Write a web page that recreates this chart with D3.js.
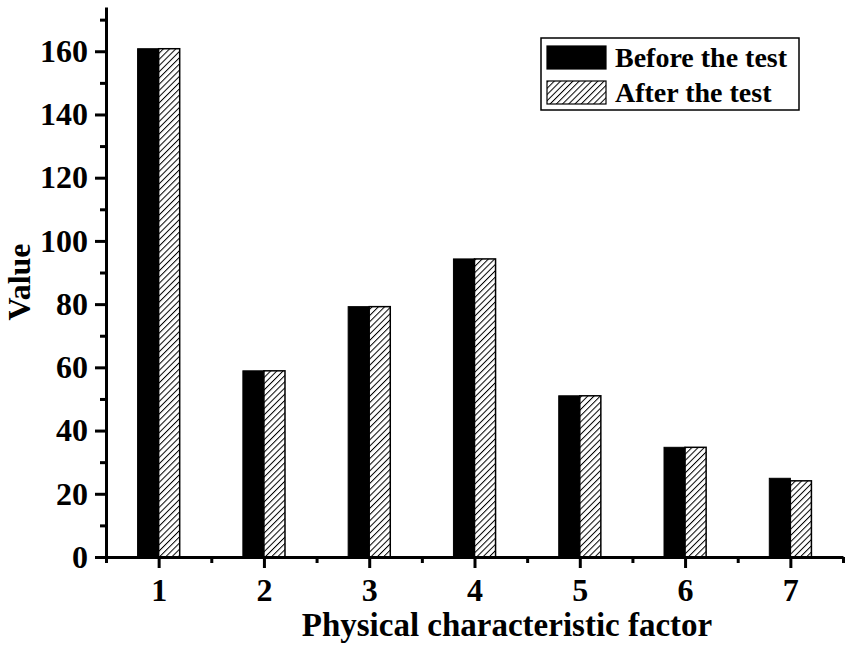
<!DOCTYPE html>
<html>
<head>
<meta charset="utf-8">
<script src="https://cdn.jsdelivr.net/npm/d3@7"></script>
<style>
  body { margin: 0; background: #fff; }
  svg { display: block; }
  text { font-family: "Liberation Serif", "Times New Roman", serif; font-weight: bold; fill: #000; }
</style>
</head>
<body>
<div id="chart"></div>
<script>
// Data
const factors = [1, 2, 3, 4, 5, 6, 7];
const beforeTest = [160.8, 58.9, 79.2, 94.3, 51.0, 34.7, 24.9];
const afterTest = [160.8, 58.9, 79.2, 94.3, 51.0, 34.7, 24.1];
const seriesNames = ['Before the test', 'After the test'];
const yMajorTicks = [0, 20, 40, 60, 80, 100, 120, 140, 160];
const yMinorTicks = [10, 30, 50, 70, 90, 110, 130, 150, 170];
const xMinorTicks = [0.5, 1.5, 2.5, 3.5, 4.5, 5.5, 6.5, 7.5];

const width = 851;
const height = 658;

const svg = d3.select('#chart')
  .append('svg')
  .attr('width', width)
  .attr('height', height);

// Hatch pattern for the "after" series
const hatchStep = 4.4;
const defs = svg.append('defs');
const pat = defs.append('pattern')
  .attr('id', 'hatch')
  .attr('patternUnits', 'userSpaceOnUse')
  .attr('width', hatchStep)
  .attr('height', hatchStep)
  .attr('patternTransform', 'rotate(45)');
pat.append('rect').attr('width', hatchStep).attr('height', hatchStep).attr('fill', '#fff');
pat.append('line')
  .attr('x1', 0).attr('y1', 0).attr('x2', 0).attr('y2', hatchStep)
  .attr('stroke', '#000')
  .attr('stroke-width', 2);

const x = d3.scaleLinear().domain([0.5, 7.5]).range([106, 843]);
const y = d3.scaleLinear().domain([0, 174]).range([557, 7]);
const barW = 0.2;

// Bars
const groups = svg.append('g');
groups.selectAll('.before')
  .data(factors)
  .enter()
  .append('rect')
  .attr('class', 'before')
  .attr('x', d => x(d - barW))
  .attr('width', x(barW) - x(0))
  .attr('y', (d, i) => y(beforeTest[i]))
  .attr('height', (d, i) => y(0) - y(beforeTest[i]))
  .attr('fill', '#000')
  .attr('stroke', '#000')
  .attr('stroke-width', 1);

groups.selectAll('.after')
  .data(factors)
  .enter()
  .append('rect')
  .attr('class', 'after')
  .attr('x', d => x(d))
  .attr('width', x(barW) - x(0))
  .attr('y', (d, i) => y(afterTest[i]))
  .attr('height', (d, i) => y(0) - y(afterTest[i]))
  .attr('fill', 'url(#hatch)')
  .attr('stroke', '#000')
  .attr('stroke-width', 1.5);

// Y axis (major + minor ticks)
svg.append('g')
  .attr('transform', `translate(${x(0.5)},0)`)
  .call(d3.axisLeft(y).tickValues(yMajorTicks).tickSize(11).tickPadding(7).tickSizeOuter(0));
svg.append('g')
  .attr('transform', `translate(${x(0.5)},0)`)
  .call(d3.axisLeft(y).tickValues(yMinorTicks).tickSize(6).tickFormat('').tickSizeOuter(0))
  .select('.domain').remove();

// X axis (major + minor ticks)
svg.append('g')
  .attr('transform', `translate(0,${y(0)})`)
  .call(d3.axisBottom(x).tickValues(factors).tickFormat(d3.format('d')).tickSize(11).tickPadding(10).tickSizeOuter(0));
svg.append('g')
  .attr('transform', `translate(0,${y(0)})`)
  .call(d3.axisBottom(x).tickValues(xMinorTicks).tickSize(6).tickFormat('').tickSizeOuter(0))
  .select('.domain').remove();

svg.selectAll('.domain').attr('stroke', '#000').attr('stroke-width', 3);
svg.selectAll('.tick line').attr('stroke', '#000').attr('stroke-width', 3);
svg.selectAll('.tick text')
  .attr('font-family', '"Liberation Serif", "Times New Roman", serif')
  .attr('font-weight', 'bold')
  .attr('font-size', '32px')
  .attr('fill', '#000');

// Axis titles
svg.append('text')
  .attr('x', 507)
  .attr('y', 636)
  .attr('text-anchor', 'middle')
  .attr('font-size', '33px')
  .text('Physical characteristic factor');

svg.append('text')
  .attr('transform', `translate(30,282) rotate(-90)`)
  .attr('text-anchor', 'middle')
  .attr('font-size', '32px')
  .text('Value');

// Legend
const legend = svg.append('g');
legend.append('rect')
  .attr('x', 541).attr('y', 38)
  .attr('width', 258).attr('height', 72)
  .attr('fill', '#fff')
  .attr('stroke', '#000')
  .attr('stroke-width', 1.5);

const fills = ['#000', 'url(#hatch)'];
seriesNames.forEach((name, i) => {
  legend.append('rect')
    .attr('x', 547).attr('y', 46 + i * 35)
    .attr('width', 59).attr('height', 23)
    .attr('fill', fills[i])
    .attr('stroke', '#000')
    .attr('stroke-width', 1.2);
  legend.append('text')
    .attr('x', 615).attr('y', 67 + i * 35)
    .attr('font-size', '28px')
    .text(name);
});
</script>
</body>
</html>
